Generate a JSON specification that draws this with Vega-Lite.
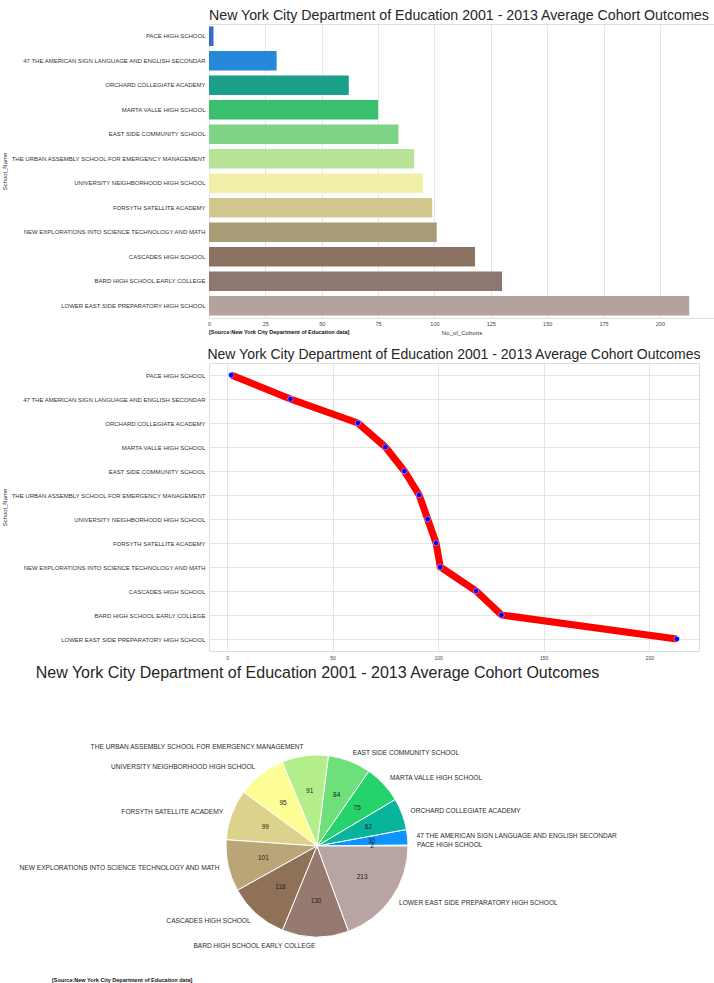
{
  "$schema": "https://vega.github.io/schema/vega-lite/v6.json",
  "padding": {"left": 0, "top": 9, "right": 0, "bottom": 0},
  "background": "white",
  "config": {"font": "Liberation Sans", "view": {"stroke": null}},
  "datasets": {
    "schools": [
      {"School_Name": "PACE HIGH SCHOOL", "No_of_Cohorts": 2},
      {"School_Name": "47 THE AMERICAN SIGN LANGUAGE AND ENGLISH SECONDAR", "No_of_Cohorts": 30},
      {"School_Name": "ORCHARD COLLEGIATE ACADEMY", "No_of_Cohorts": 62},
      {"School_Name": "MARTA VALLE HIGH SCHOOL", "No_of_Cohorts": 75},
      {"School_Name": "EAST SIDE COMMUNITY SCHOOL", "No_of_Cohorts": 84},
      {"School_Name": "THE URBAN ASSEMBLY SCHOOL FOR EMERGENCY MANAGEMENT", "No_of_Cohorts": 91},
      {"School_Name": "UNIVERSITY NEIGHBORHOOD HIGH SCHOOL", "No_of_Cohorts": 95},
      {"School_Name": "FORSYTH SATELLITE ACADEMY", "No_of_Cohorts": 99},
      {"School_Name": "NEW EXPLORATIONS INTO SCIENCE TECHNOLOGY AND MATH", "No_of_Cohorts": 101},
      {"School_Name": "CASCADES HIGH SCHOOL", "No_of_Cohorts": 118},
      {"School_Name": "BARD HIGH SCHOOL EARLY COLLEGE", "No_of_Cohorts": 130},
      {"School_Name": "LOWER EAST SIDE PREPARATORY HIGH SCHOOL", "No_of_Cohorts": 213}
    ]
  },
  "title": {
    "text": "New York City Department of Education 2001 - 2013 Average Cohort Outcomes",
    "anchor": "start",
    "frame": "group",
    "fontSize": 14.2,
    "fontWeight": "normal",
    "color": "#262626",
    "offset": 0
  },
  "spacing": 45,
  "bounds": "flush",
  "resolve": {"scale": {"color": "independent"}},
  "vconcat": [
    {
      "data": {"name": "schools"},
      "width": 505,
      "height": 294,
      "view": {"stroke": "#dedede"},
      "title": {
        "text": "[Source:New York City Department of Education data]",
        "orient": "bottom",
        "anchor": "start",
        "frame": "group",
        "fontSize": 5.5,
        "fontWeight": "bold",
        "color": "#111111",
        "offset": -6
      },
      "mark": {"type": "bar"},
      "encoding": {
        "y": {
          "field": "School_Name",
          "type": "nominal",
          "sort": null,
          "scale": {"paddingInner": 0.2, "paddingOuter": 0.1},
          "axis": {
            "title": "School_Name",
            "titleFontSize": 6,
            "titleFontWeight": "normal",
            "titleColor": "#333333",
            "titlePadding": 3,
            "labelFontSize": 6,
            "labelColor": "#333333",
            "labelPadding": 4,
            "labelLimit": 300,
            "ticks": false,
            "tickSize": 0,
            "domain": false,
            "grid": false
          }
        },
        "x": {
          "field": "No_of_Cohorts",
          "type": "quantitative",
          "scale": {"domain": [0, 224], "nice": false},
          "axis": {
            "values": [0, 25, 50, 75, 100, 125, 150, 175, 200],
            "grid": true,
            "gridColor": "#e6e6e6",
            "domain": false,
            "ticks": false,
            "tickSize": 0,
            "labelFontSize": 5.5,
            "labelColor": "#444444",
            "labelPadding": 3,
            "labelFlush": false,
            "title": "No_of_Cohorts",
            "titleFontSize": 6,
            "titleFontWeight": "normal",
            "titleColor": "#333333",
            "titlePadding": 3
          }
        },
        "color": {
          "field": "School_Name",
          "type": "nominal",
          "legend": null,
          "scale": {
            "domain": [
              "PACE HIGH SCHOOL",
              "47 THE AMERICAN SIGN LANGUAGE AND ENGLISH SECONDAR",
              "ORCHARD COLLEGIATE ACADEMY",
              "MARTA VALLE HIGH SCHOOL",
              "EAST SIDE COMMUNITY SCHOOL",
              "THE URBAN ASSEMBLY SCHOOL FOR EMERGENCY MANAGEMENT",
              "UNIVERSITY NEIGHBORHOOD HIGH SCHOOL",
              "FORSYTH SATELLITE ACADEMY",
              "NEW EXPLORATIONS INTO SCIENCE TECHNOLOGY AND MATH",
              "CASCADES HIGH SCHOOL",
              "BARD HIGH SCHOOL EARLY COLLEGE",
              "LOWER EAST SIDE PREPARATORY HIGH SCHOOL"
            ],
            "range": ["#3a6bc4", "#2588d8", "#1aa08a", "#3abf6f", "#7dd386", "#b7e396", "#f0f0a8", "#d2c68f", "#aa9b77", "#8b7262", "#8d7770", "#b3a29e"]
          }
        }
      }
    },
    {
      "data": {"name": "schools"},
      "width": 490,
      "height": 288,
      "view": {"stroke": "#dedede"},
      "title": {
        "text": "New York City Department of Education 2001 - 2013 Average Cohort Outcomes",
        "anchor": "middle",
        "fontSize": 14,
        "fontWeight": "normal",
        "color": "#262626",
        "offset": -1
      },
      "encoding": {
        "y": {
          "field": "School_Name",
          "type": "nominal",
          "sort": null,
          "scale": {"type": "point", "padding": 0.5},
          "axis": {
            "title": "School_Name",
            "titleFontSize": 6,
            "titleFontWeight": "normal",
            "titleColor": "#333333",
            "titlePadding": 3,
            "labelFontSize": 6,
            "labelColor": "#333333",
            "labelPadding": 4,
            "labelLimit": 300,
            "ticks": false,
            "tickSize": 0,
            "domain": false,
            "grid": true,
            "gridColor": "#e4e4e4"
          }
        },
        "x": {
          "field": "No_of_Cohorts",
          "type": "quantitative",
          "scale": {"domain": [-8.55, 223.55], "nice": false, "zero": false},
          "axis": {
            "values": [0, 50, 100, 150, 200],
            "grid": true,
            "gridColor": "#e4e4e4",
            "domain": false,
            "ticks": false,
            "tickSize": 0,
            "labelFontSize": 5,
            "labelColor": "#444444",
            "labelPadding": 4,
            "labelFlush": false,
            "title": "New York City Department of Education 2001 - 2013 Average Cohort Outcomes",
            "titleFontSize": 16,
            "titleFontWeight": "normal",
            "titleColor": "#262626",
            "titlePadding": 4,
            "titleX": 108
          }
        }
      },
      "layer": [
        {
          "mark": {"type": "line", "color": "#ff0000", "strokeWidth": 7},
          "encoding": {"order": {"field": "No_of_Cohorts", "type": "quantitative"}}
        },
        {
          "mark": {"type": "point", "filled": true, "color": "#0000ff", "size": 30, "opacity": 1, "stroke": "white", "strokeWidth": 0.4}
        }
      ]
    },
    {
      "data": {"name": "schools"},
      "width": 216,
      "height": 300,
      "title": {
        "text": "[Source:New York City Department of Education data]",
        "orient": "bottom",
        "anchor": "start",
        "frame": "group",
        "dx": -157,
        "offset": -18,
        "fontSize": 5.5,
        "fontWeight": "bold",
        "color": "#111111"
      },
      "encoding": {
        "theta": {
          "field": "No_of_Cohorts",
          "type": "quantitative",
          "stack": true,
          "scale": {"range": [1.5707963267948966, -4.71238898038469], "nice": false}
        },
        "order": {"field": "No_of_Cohorts", "type": "quantitative", "sort": "ascending"}
      },
      "layer": [
        {
          "mark": {"type": "arc", "outerRadius": 91, "stroke": "white", "strokeWidth": 1},
          "encoding": {
            "color": {
              "field": "School_Name",
              "type": "nominal",
              "legend": null,
              "scale": {
                "domain": [
                  "PACE HIGH SCHOOL",
                  "47 THE AMERICAN SIGN LANGUAGE AND ENGLISH SECONDAR",
                  "ORCHARD COLLEGIATE ACADEMY",
                  "MARTA VALLE HIGH SCHOOL",
                  "EAST SIDE COMMUNITY SCHOOL",
                  "THE URBAN ASSEMBLY SCHOOL FOR EMERGENCY MANAGEMENT",
                  "UNIVERSITY NEIGHBORHOOD HIGH SCHOOL",
                  "FORSYTH SATELLITE ACADEMY",
                  "NEW EXPLORATIONS INTO SCIENCE TECHNOLOGY AND MATH",
                  "CASCADES HIGH SCHOOL",
                  "BARD HIGH SCHOOL EARLY COLLEGE",
                  "LOWER EAST SIDE PREPARATORY HIGH SCHOOL"
                ],
                "range": ["#1f5fcf", "#0f93ff", "#08b49c", "#26d36b", "#6ee07a", "#b4ee8a", "#fdfd96", "#dcd28c", "#b9a577", "#8f7157", "#967a6f", "#b8a4a0"]
              }
            }
          }
        },
        {
          "mark": {"type": "text", "radius": 55, "fontSize": 6.5, "color": "#222222", "align": "center", "baseline": "middle"},
          "encoding": {"text": {"field": "No_of_Cohorts", "type": "quantitative"}}
        },
        {
          "mark": {"type": "text", "radius": 100, "align": "left", "baseline": "middle", "fontSize": 6.6, "color": "#2a2a2a"},
          "encoding": {
            "text": {
              "condition": {
                "test": {"field": "School_Name", "oneOf": ["PACE HIGH SCHOOL", "47 THE AMERICAN SIGN LANGUAGE AND ENGLISH SECONDAR", "ORCHARD COLLEGIATE ACADEMY", "MARTA VALLE HIGH SCHOOL", "EAST SIDE COMMUNITY SCHOOL", "LOWER EAST SIDE PREPARATORY HIGH SCHOOL"]},
                "field": "School_Name",
                "type": "nominal"
              },
              "value": ""
            }
          }
        },
        {
          "mark": {"type": "text", "radius": 100, "align": "right", "baseline": "middle", "fontSize": 6.6, "color": "#2a2a2a"},
          "encoding": {
            "text": {
              "condition": {
                "test": {"not": {"field": "School_Name", "oneOf": ["PACE HIGH SCHOOL", "47 THE AMERICAN SIGN LANGUAGE AND ENGLISH SECONDAR", "ORCHARD COLLEGIATE ACADEMY", "MARTA VALLE HIGH SCHOOL", "EAST SIDE COMMUNITY SCHOOL", "LOWER EAST SIDE PREPARATORY HIGH SCHOOL"]}},
                "field": "School_Name",
                "type": "nominal"
              },
              "value": ""
            }
          }
        }
      ]
    }
  ]
}
